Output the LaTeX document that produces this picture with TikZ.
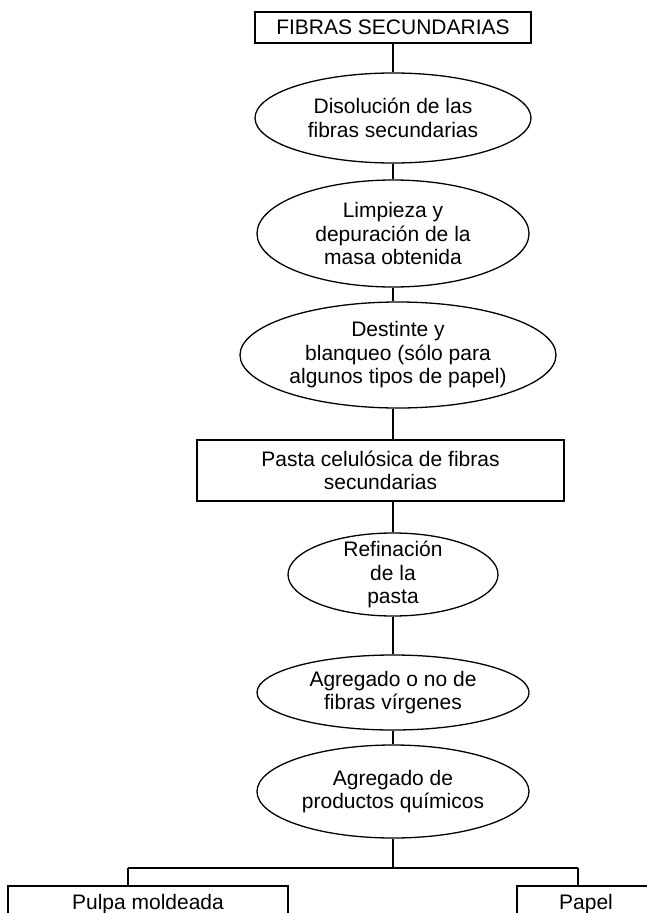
\documentclass[tikz,border=0pt]{standalone}
\usepackage{fontspec}
\setmainfont{Liberation Sans}
\usetikzlibrary{shapes.geometric, positioning}
\tikzset{
    oval/.style = {ellipse, draw, line width=1.3pt, inner sep=0pt, align=center},
    heading/.style = {rectangle, draw, line width=1.6pt, inner sep=0pt, align=center},
    link/.style = {line width=1.2pt}
    }

\begin{document}
\begin{tikzpicture}[
      x = 1pt, y = -1pt, % pixel units, y pointing down
      font = \fontsize{21}{23.5}\selectfont,
      line width = 1.2pt
    ]
    \useasboundingbox (0,0) rectangle (647,913);
    \clip (0,0) rectangle (647,913);

    \node[heading, minimum width=276pt, minimum height=31pt] (0) at (393, 27.5) {FIBRAS SECUNDARIAS};
    \node[oval, minimum width=276pt, minimum height=90pt] (1) at (393, 118) {Disolución de las\\fibras secundarias};
    \node[oval, minimum width=272pt, minimum height=107pt] (2) at (393, 233.5) {Limpieza y\\depuración de la\\masa obtenida};
    \node[oval, minimum width=316pt, minimum height=106pt] (3) at (398, 355) {Destinte y\\blanqueo (sólo para\\algunos tipos de papel)};
    \node[heading, minimum width=367pt, minimum height=61pt] (4) at (380.5, 470.5) {Pasta celulósica de fibras\\secundarias};
    \node[oval, inner ysep=-6pt, minimum width=210pt, minimum height=83pt] (5) at (393, 574.5) {Refinación\\de la\\pasta};
    \node[oval, minimum width=272pt, minimum height=75pt] (6) at (393, 692.5) {Agregado o no de\\fibras vírgenes};
    \node[oval, minimum width=272pt, minimum height=93pt] (7) at (393, 791.5) {Agregado de\\productos químicos};
    \node[heading, anchor=north, minimum width=280pt, minimum height=36pt] (8) at (148, 885) {Pulpa moldeada};
    \node[heading, anchor=north, minimum width=138pt, minimum height=36pt] (9) at (586, 885) {Papel};

    \coordinate (j) at (393, 868);
    \coordinate (jl) at (128, 868);
    \coordinate (jr) at (578, 868);

    \path (0) edge (1);
    \path (1) edge (2);
    \draw (2.south) -- (2.south |- 3.north);
    \draw (2.south |- 3.south) -- (2.south |- 4.north);
    \draw (5.north |- 4.south) -- (5.north);
    \path (5) edge (6);
    \path (6) edge (7);
    \draw (7) -- (j);
    \draw (jl) -- (jr);
    \draw (jl) -- (jl |- 8.north);
    \draw (jr) -- (jr |- 9.north);
\end{tikzpicture}
\end{document}
